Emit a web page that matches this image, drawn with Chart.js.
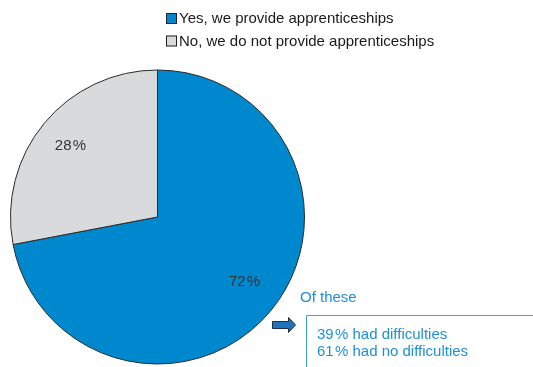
<!DOCTYPE html>
<html>
<head>
<meta charset="utf-8">
<script src="https://cdn.jsdelivr.net/npm/chart.js@4.4.1/dist/chart.umd.min.js"></script>
<style>
  html, body { margin: 0; padding: 0; background: #fff; }
  #wrap { width: 533px; height: 367px; position: relative; }
</style>
</head>
<body>
<div id="wrap"><canvas id="pieChart"></canvas></div>
<script>
const categories = ['Yes, we provide apprenticeships', 'No, we do not provide apprenticeships'];
const shares = [72, 28];
const sliceColors = ['#0088cf', '#d9dadb'];
const subLabels = ['had difficulties', 'had no difficulties'];
const subShares = [39, 61];

const FONT = 'Arial, "Liberation Sans", sans-serif';

// percentage text inside each slice
const sliceLabels = {
    id: 'sliceLabels',
    afterDatasetsDraw(chart) {
        const ctx = chart.ctx;
        const meta = chart.getDatasetMeta(0);
        ctx.save();
        ctx.font = '15px ' + FONT;
        ctx.fillStyle = '#333';
        ctx.textAlign = 'center';
        ctx.textBaseline = 'middle';
        meta.data.forEach((arc, i) => {
            const p = arc.getProps(['x', 'y', 'startAngle', 'endAngle', 'outerRadius'], true);
            const mid = (p.startAngle + p.endAngle) / 2 - 0.03;
            const r = p.outerRadius * 0.75;
            ctx.fillText(shares[i] + '\u200A%', p.x + Math.cos(mid) * r, p.y + Math.sin(mid) * r - 3);
        });
        ctx.restore();
    }
};

// legend block top-right of the pie
const sideLegend = {
    id: 'sideLegend',
    afterDraw(chart) {
        const ctx = chart.ctx;
        ctx.save();
        ctx.font = '15px ' + FONT;
        ctx.textBaseline = 'middle';
        categories.forEach((label, i) => {
            const y = 18 + i * 22.5;
            ctx.fillStyle = sliceColors[i];
            ctx.fillRect(166, y - 5, 11, 11);
            ctx.strokeStyle = '#222';
            ctx.lineWidth = 1;
            ctx.strokeRect(166.5, y - 4.5, 10, 10);
            ctx.fillStyle = '#1a1a1a';
            ctx.fillText(label, 179, y + 1);
        });
        ctx.restore();
    }
};

// breakdown of the "yes" group with arrow and open box
const breakdown = {
    id: 'breakdown',
    afterDraw(chart) {
        const ctx = chart.ctx;
        const blue = '#1e90d6';
        ctx.save();
        ctx.font = '15px ' + FONT;
        ctx.textBaseline = 'middle';
        ctx.fillStyle = blue;
        ctx.fillText('Of these', 300, 298);

        // arrow
        ctx.beginPath();
        ctx.moveTo(272.5, 321.5);
        ctx.lineTo(288.5, 321.5);
        ctx.lineTo(288.5, 317.5);
        ctx.lineTo(295.5, 325);
        ctx.lineTo(288.5, 332.5);
        ctx.lineTo(288.5, 328.5);
        ctx.lineTo(272.5, 328.5);
        ctx.closePath();
        ctx.fillStyle = '#1f74b8';
        ctx.fill();
        ctx.strokeStyle = '#1b2f45';
        ctx.lineWidth = 1;
        ctx.stroke();

        // box (top and left sides)
        ctx.beginPath();
        ctx.moveTo(306.5, 367);
        ctx.lineTo(306.5, 315.5);
        ctx.lineTo(533, 315.5);
        ctx.strokeStyle = '#3ea3e0';
        ctx.stroke();

        ctx.fillStyle = blue;
        subLabels.forEach((t, i) => {
            ctx.fillText(subShares[i] + '\u200A% ' + t, 317, 335 + i * 17);
        });
        ctx.restore();
    }
};

const ctx = document.getElementById('pieChart').getContext('2d');
new Chart(ctx, {
    type: 'pie',
    data: {
        labels: categories,
        datasets: [{
            data: shares,
            backgroundColor: sliceColors,
            borderColor: '#2a2a2a',
            borderWidth: 1
        }]
    },
    options: {
        responsive: true,
        maintainAspectRatio: false,
        animation: false,
        rotation: 0,
        layout: {
            padding: { left: 10, right: 228, top: 69, bottom: 2 }
        },
        plugins: {
            legend: { display: false },
            tooltip: { enabled: false }
        }
    },
    plugins: [sliceLabels, sideLegend, breakdown]
});
</script>
</body>
</html>
